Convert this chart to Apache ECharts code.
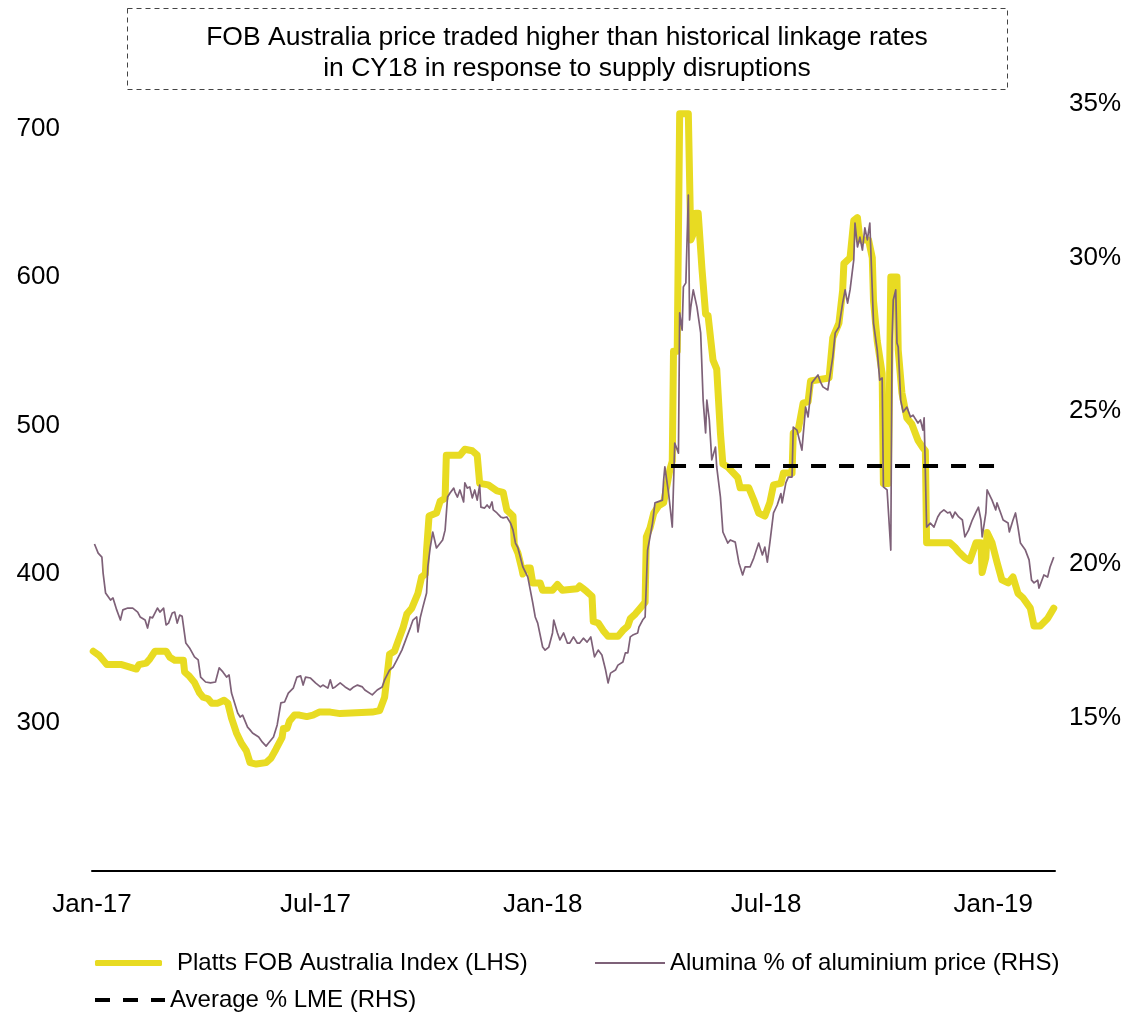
<!DOCTYPE html>
<html>
<head>
<meta charset="utf-8">
<script src="https://cdn.jsdelivr.net/npm/echarts@6/dist/echarts.min.js"></script>
<style>
  html, body { margin: 0; padding: 0; background: #fff; }
  #chart { width: 1132px; height: 1014px; }
</style>
</head>
<body>
<div id="chart"></div>
<script>
// Platts FOB Australia alumina index, US$/t (left axis)
const fobDates = [
  '2017-01-02','2017-01-07','2017-01-11','2017-01-13','2017-01-25','2017-02-06','2017-02-08','2017-02-14','2017-02-17','2017-02-21',
  '2017-03-02','2017-03-05','2017-03-09','2017-03-16','2017-03-17','2017-03-21','2017-03-25','2017-03-29','2017-04-01','2017-04-05',
  '2017-04-08','2017-04-13','2017-04-18','2017-04-21','2017-04-24','2017-04-28','2017-05-02','2017-05-06','2017-05-09','2017-05-14',
  '2017-05-22','2017-05-26','2017-05-30','2017-06-04','2017-06-05','2017-06-08','2017-06-10','2017-06-14','2017-06-18','2017-06-24',
  '2017-06-29','2017-07-04','2017-07-13','2017-07-21','2017-08-16','2017-08-22','2017-08-26','2017-08-30','2017-09-03','2017-09-06',
  '2017-09-10','2017-09-13','2017-09-17','2017-09-22','2017-09-25','2017-09-28','2017-09-29','2017-10-01','2017-10-07','2017-10-10',
  '2017-10-14','2017-10-15','2017-10-26','2017-10-30','2017-11-05','2017-11-09','2017-11-11','2017-11-18','2017-11-25','2017-11-30',
  '2017-12-03','2017-12-08','2017-12-09','2017-12-12','2017-12-15','2017-12-16','2017-12-19','2017-12-22','2017-12-24','2017-12-30',
  '2018-01-01','2018-01-09','2018-01-13','2018-01-17','2018-01-29','2018-01-31','2018-02-03','2018-02-06','2018-02-10','2018-02-11',
  '2018-02-15','2018-02-19','2018-02-23','2018-03-03','2018-03-07','2018-03-11','2018-03-13','2018-03-17','2018-03-21','2018-03-25',
  '2018-03-26','2018-03-29','2018-04-01','2018-04-05','2018-04-09','2018-04-12','2018-04-14','2018-04-16','2018-04-17','2018-04-20',
  '2018-04-22','2018-04-29','2018-05-01','2018-05-03','2018-05-05','2018-05-07','2018-05-10','2018-05-13','2018-05-15','2018-05-19',
  '2018-05-22','2018-05-25','2018-05-27','2018-05-31','2018-06-08','2018-06-10','2018-06-17','2018-06-21','2018-06-25','2018-06-30',
  '2018-07-04','2018-07-07','2018-07-13','2018-07-15','2018-07-22','2018-07-23','2018-07-27','2018-07-31','2018-08-04','2018-08-06',
  '2018-08-21','2018-08-24','2018-08-29','2018-09-01','2018-09-02','2018-09-07','2018-09-10','2018-09-13','2018-09-15','2018-09-22',
  '2018-09-25','2018-09-26','2018-09-29','2018-10-03','2018-10-04','2018-10-08','2018-10-10','2018-10-15','2018-10-16','2018-10-19',
  '2018-10-23','2018-10-27','2018-11-01','2018-11-05','2018-11-07','2018-11-08','2018-11-27','2018-12-01','2018-12-04','2018-12-09',
  '2018-12-13','2018-12-18','2018-12-22','2018-12-23','2018-12-26','2018-12-27','2018-12-31','2019-01-04','2019-01-08','2019-01-13',
  '2019-01-17','2019-01-21','2019-01-25','2019-01-31','2019-02-03','2019-02-08','2019-02-14','2019-02-19'
];
const fobValues = [
  348,345,341,339,339,336,339,340,343,348,
  348,344,342,342,334,331,327,320,317,316,
  313,313,315,313,303,293,286,281,273,272,
  273,276,282,290,296,296,301,305,305,304,
  305,307,307,306,307,308,317,346,348,355,
  364,373,377,387,398,400,416,439,441,449,
  451,480,480,484,483,480,461,460,456,455,
  443,439,420,414,404,400,404,404,394,394,
  389,389,393,389,390,392,390,388,385,368,
  367,362,358,358,362,365,370,373,377,381,
  425,431,441,446,448,461,470,476,550,550,
  710,710,625,629,643,643,606,575,574,544,
  538,495,474,472,465,458,458,450,441,439,
  448,460,461,468,468,495,497,515,516,530,
  532,559,569,591,609,613,638,640,625,625,
  613,584,557,535,461,461,600,600,551,522,
  505,501,490,485,483,421,421,418,415,411,
  409,421,421,401,411,428,421,408,396,394,
  398,387,384,377,365,365,370,377
];

// Alumina price as % of LME aluminium price (right axis)
const aluDates = [
  '2017-01-03','2017-01-06','2017-01-09','2017-01-10','2017-01-12','2017-01-16','2017-01-18','2017-01-21','2017-01-24','2017-01-26',
  '2017-01-30','2017-02-03','2017-02-07','2017-02-09','2017-02-13','2017-02-15','2017-02-17','2017-02-19','2017-02-23','2017-02-25',
  '2017-02-28','2017-03-02','2017-03-04','2017-03-07','2017-03-09','2017-03-11','2017-03-13','2017-03-15','2017-03-18','2017-03-21',
  '2017-03-25','2017-03-28','2017-03-30','2017-04-03','2017-04-07','2017-04-11','2017-04-14','2017-04-17','2017-04-20','2017-04-22',
  '2017-04-24','2017-04-25','2017-04-29','2017-05-01','2017-05-03','2017-05-07','2017-05-09','2017-05-11','2017-05-16','2017-05-19',
  '2017-05-22','2017-05-24','2017-05-28','2017-05-31','2017-06-03','2017-06-06','2017-06-09','2017-06-13','2017-06-16','2017-06-19',
  '2017-06-21','2017-06-23','2017-06-27','2017-07-01','2017-07-05','2017-07-07','2017-07-11','2017-07-13','2017-07-15','2017-07-17',
  '2017-07-21','2017-07-25','2017-07-29','2017-08-01','2017-08-04','2017-08-08','2017-08-10','2017-08-16','2017-08-20','2017-08-24',
  '2017-08-26','2017-08-30','2017-09-02','2017-09-05','2017-09-09','2017-09-13','2017-09-16','2017-09-18','2017-09-21','2017-09-22',
  '2017-09-24','2017-09-26','2017-09-29','2017-09-30','2017-10-02','2017-10-04','2017-10-07','2017-10-08','2017-10-12','2017-10-14',
  '2017-10-16','2017-10-18','2017-10-21','2017-10-22','2017-10-24','2017-10-26','2017-10-29','2017-10-30','2017-11-01','2017-11-03',
  '2017-11-05','2017-11-07','2017-11-09','2017-11-11','2017-11-12','2017-11-15','2017-11-17','2017-11-19','2017-11-21','2017-11-22',
  '2017-11-25','2017-11-28','2017-11-30','2017-12-03','2017-12-06','2017-12-08','2017-12-10','2017-12-12','2017-12-16','2017-12-20',
  '2017-12-24','2017-12-26','2017-12-28','2018-01-01','2018-01-03','2018-01-06','2018-01-09','2018-01-10','2018-01-13','2018-01-15',
  '2018-01-18','2018-01-21','2018-01-23','2018-01-26','2018-01-29','2018-01-31','2018-02-03','2018-02-06','2018-02-09','2018-02-10',
  '2018-02-12','2018-02-15','2018-02-18','2018-02-21','2018-02-23','2018-02-25','2018-03-01','2018-03-03','2018-03-07','2018-03-09',
  '2018-03-11','2018-03-13','2018-03-15','2018-03-19','2018-03-20','2018-03-23','2018-03-25','2018-03-27','2018-03-29','2018-03-31',
  '2018-04-02','2018-04-08','2018-04-09','2018-04-10','2018-04-13','2018-04-16','2018-04-18','2018-04-21','2018-04-22','2018-04-24',
  '2018-04-25','2018-04-27','2018-04-29','2018-04-30','2018-05-01','2018-05-03','2018-05-06','2018-05-09','2018-05-11','2018-05-13',
  '2018-05-14','2018-05-16','2018-05-18','2018-05-21','2018-05-22','2018-05-25','2018-05-27','2018-05-31','2018-06-02','2018-06-06',
  '2018-06-09','2018-06-12','2018-06-14','2018-06-18','2018-06-21','2018-06-25','2018-06-28','2018-06-30','2018-07-02','2018-07-04',
  '2018-07-07','2018-07-10','2018-07-13','2018-07-14','2018-07-17','2018-07-19','2018-07-22','2018-07-23','2018-07-26','2018-07-30',
  '2018-08-02','2018-08-04','2018-08-07','2018-08-12','2018-08-14','2018-08-16','2018-08-20','2018-08-24','2018-08-26','2018-08-29',
  '2018-09-01','2018-09-03','2018-09-05','2018-09-07','2018-09-10','2018-09-11','2018-09-13','2018-09-15','2018-09-17','2018-09-19',
  '2018-09-21','2018-09-23','2018-09-25','2018-09-26','2018-09-29','2018-10-01','2018-10-03','2018-10-04','2018-10-07','2018-10-10',
  '2018-10-11','2018-10-12','2018-10-14','2018-10-15','2018-10-16','2018-10-18','2018-10-20','2018-10-23','2018-10-26','2018-10-28',
  '2018-11-01','2018-11-03','2018-11-05','2018-11-06','2018-11-08','2018-11-11','2018-11-14','2018-11-17','2018-11-19','2018-11-22',
  '2018-11-25','2018-11-27','2018-11-29','2018-12-01','2018-12-04','2018-12-07','2018-12-09','2018-12-12','2018-12-15','2018-12-18',
  '2018-12-20','2018-12-22','2018-12-23','2018-12-26','2018-12-27','2018-12-31','2019-01-03','2019-01-04','2019-01-07','2019-01-09',
  '2019-01-13','2019-01-14','2019-01-17','2019-01-19','2019-01-21','2019-01-23','2019-01-27','2019-01-30','2019-02-01','2019-02-03',
  '2019-02-06','2019-02-07','2019-02-11','2019-02-14','2019-02-16','2019-02-19'
];
const aluValues = [
  20.66,20.36,20.23,19.71,19.06,18.83,18.90,18.51,18.18,18.51,
  18.57,18.57,18.44,18.28,18.18,17.92,18.28,18.25,18.57,18.44,
  18.57,18.02,18.08,18.41,18.44,18.08,18.34,18.30,17.43,17.27,
  16.98,16.88,16.32,16.16,16.13,16.16,16.62,16.49,16.32,16.39,
  15.80,15.74,15.15,15.02,15.08,14.69,14.60,14.50,14.37,14.20,
  14.07,14.17,14.37,14.76,15.48,15.51,15.80,15.96,16.32,16.36,
  16.06,16.32,16.29,16.13,16.00,16.06,15.96,16.23,15.96,16.00,
  16.13,16.00,15.90,16.00,16.06,16.00,15.90,15.74,15.90,16.00,
  16.23,16.55,16.65,16.88,17.20,17.63,17.95,18.18,18.28,17.79,
  18.28,18.60,19.06,19.91,20.56,21.05,20.53,20.56,20.79,21.11,
  22.19,22.32,22.48,22.35,22.19,22.42,22.03,22.65,22.48,22.52,
  22.16,22.42,22.09,22.58,21.86,21.83,21.93,21.83,22.03,21.77,
  21.67,21.54,21.51,21.54,21.34,21.11,20.69,20.53,19.91,19.58,
  18.74,18.28,18.08,17.30,17.20,17.30,17.76,18.18,17.76,17.53,
  17.76,17.43,17.43,17.63,17.43,17.43,17.59,17.46,17.63,17.69,
  16.98,17.20,17.04,16.55,16.13,16.45,16.55,16.71,16.81,17.11,
  17.11,17.63,17.69,17.76,17.95,18.18,18.28,20.46,20.89,21.34,
  22.00,22.09,22.74,23.17,22.32,21.21,23.95,23.62,28.19,27.63,
  29.04,29.17,32.03,27.96,28.38,28.94,28.38,27.54,25.35,24.28,
  25.35,24.70,23.40,23.82,23.17,22.19,21.05,20.69,20.79,20.72,
  20.04,19.65,19.91,19.91,20.20,20.69,20.30,20.56,20.07,20.69,
  21.67,21.93,22.30,22.00,22.65,22.84,22.84,24.47,24.37,23.72,
  25.12,24.80,25.91,26.17,25.94,25.78,25.68,26.75,27.54,27.73,
  28.51,28.94,28.51,28.94,29.92,31.12,30.34,30.66,30.24,30.96,
  30.57,31.12,28.94,27.86,26.98,26.00,26.07,22.52,22.42,20.46,
  27.31,28.61,28.94,27.21,27.08,25.35,24.96,25.12,24.80,24.86,
  24.60,24.70,24.37,24.77,21.21,21.34,21.21,21.54,21.67,21.77,
  21.67,21.70,21.51,21.70,21.54,21.44,20.89,21.11,21.44,21.70,
  21.86,21.44,20.89,21.67,22.42,22.09,21.77,22.00,21.67,21.44,
  21.34,21.05,21.44,21.67,21.21,20.69,20.46,20.14,19.48,19.39,
  19.48,19.22,19.65,19.58,19.91,20.23
];

// Long-run average alumina / LME ratio (right axis)
const lmeDates = ['2018-04-15', '2019-01-02'];
const lmeValues = [23.2, 23.2];

// Axis ticks
const tickDates = ['2017-01-01', '2017-07-01', '2018-01-01', '2018-07-01', '2019-01-01'];
const tickLabels = ['Jan-17', 'Jul-17', 'Jan-18', 'Jul-18', 'Jan-19'];
const leftTicks = [300, 400, 500, 600, 700];
const rightTicks = [15, 20, 25, 30, 35];

const seriesNames = [
  'Platts FOB Australia Index (LHS)',
  'Alumina % of aluminium price (RHS)',
  'Average % LME (RHS)'
];

const YELLOW = '#E8DB22';
const PLUM = '#7E6178';

// Dates are placed on a plain numeric axis as UTC milliseconds.
function ts(d) {
  const p = d.split('-').map(Number);
  return Date.UTC(p[0], p[1] - 1, p[2]);
}
function zip(dates, values) {
  return dates.map((d, i) => [ts(d), values[i]]);
}

const FONT = '"Liberation Sans", Arial, Helvetica, sans-serif';
const tickTimes = tickDates.map(ts);

const chart = echarts.init(document.getElementById('chart'), null, { renderer: 'canvas' });

const legendBase = {
  orient: 'horizontal',
  padding: 0,
  selectedMode: false,
  textStyle: { fontSize: 24, color: '#000', fontFamily: FONT }
};

chart.setOption({
  animation: false,
  backgroundColor: '#fff',
  textStyle: { fontFamily: FONT },
  grid: { left: 92, right: 77, top: 104, bottom: 143, containLabel: false },
  xAxis: {
    type: 'value',
    min: ts('2017-01-01'),
    max: ts('2019-02-20'),
    scale: true,
    axisLine: { show: true, lineStyle: { color: '#000', width: 2 } },
    axisTick: { show: false },
    splitLine: { show: false },
    axisLabel: {
      customValues: tickTimes,
      formatter: function (v) {
        let best = 0;
        for (let i = 1; i < tickTimes.length; i++) {
          if (Math.abs(tickTimes[i] - v) < Math.abs(tickTimes[best] - v)) best = i;
        }
        return tickLabels[best];
      },
      color: '#000',
      fontSize: 26,
      fontFamily: FONT,
      margin: 21
    }
  },
  yAxis: [
    {
      type: 'value',
      position: 'left',
      min: 200,
      max: 716.5,
      axisLine: { show: false },
      axisTick: { show: false },
      splitLine: { show: false },
      axisLabel: {
        customValues: leftTicks,
        color: '#000',
        fontSize: 26,
        fontFamily: FONT,
        margin: 32
      }
    },
    {
      type: 'value',
      position: 'right',
      min: 10,
      max: 35,
      axisLine: { show: false },
      axisTick: { show: false },
      splitLine: { show: false },
      axisLabel: {
        customValues: rightTicks,
        formatter: '{value}%',
        color: '#000',
        fontSize: 26,
        fontFamily: FONT,
        margin: 14
      }
    }
  ],
  legend: [
    Object.assign({}, legendBase, {
      data: [{ name: seriesNames[0], icon: 'roundRect', itemStyle: { color: YELLOW } }],
      left: 95, top: 951,
      itemWidth: 67, itemHeight: 6,
      textStyle: Object.assign({}, legendBase.textStyle, { padding: [0, 0, 0, 10] })
    }),
    Object.assign({}, legendBase, {
      data: [{ name: seriesNames[1], icon: 'rect', itemStyle: { color: PLUM } }],
      left: 595, top: 951,
      itemWidth: 70, itemHeight: 2
    }),
    Object.assign({}, legendBase, {
      data: [{
        name: seriesNames[2],
        icon: 'path://M0,0h15v4h-15z M28,0h15v4h-15z M56,0h14v4h-14z',
        itemStyle: { color: '#000' }
      }],
      left: 95, top: 988,
      itemWidth: 70, itemHeight: 4
    })
  ],
  graphic: [
    {
      type: 'rect',
      silent: true,
      shape: { x: 127.5, y: 8.5, width: 880, height: 81 },
      style: { fill: 'none', stroke: '#444', lineWidth: 1, lineDash: [5, 4] }
    },
    {
      type: 'text',
      silent: true,
      x: 567,
      y: 22.5,
      style: {
        text: 'FOB Australia price traded higher than historical linkage rates\nin CY18 in response to supply disruptions',
        font: '26.5px ' + FONT,
        fill: '#000',
        align: 'center',
        verticalAlign: 'top',
        lineHeight: 31
      }
    }
  ],
  series: [
    {
      name: seriesNames[0],
      type: 'line',
      yAxisIndex: 0,
      data: zip(fobDates, fobValues),
      showSymbol: false,
      symbol: 'none',
      clip: false,
      lineStyle: { color: YELLOW, width: 7, cap: 'round', join: 'round' },
      itemStyle: { color: YELLOW },
      z: 2
    },
    {
      name: seriesNames[1],
      type: 'line',
      yAxisIndex: 1,
      data: zip(aluDates, aluValues),
      showSymbol: false,
      symbol: 'none',
      clip: false,
      lineStyle: { color: PLUM, width: 1.7, join: 'round' },
      itemStyle: { color: PLUM },
      z: 3
    },
    {
      name: seriesNames[2],
      type: 'line',
      yAxisIndex: 1,
      data: zip(lmeDates, lmeValues),
      showSymbol: false,
      symbol: 'none',
      lineStyle: { color: '#000', width: 4, type: [15, 13] },
      itemStyle: { color: '#000' },
      z: 4
    }
  ]
});
</script>
</body>
</html>
